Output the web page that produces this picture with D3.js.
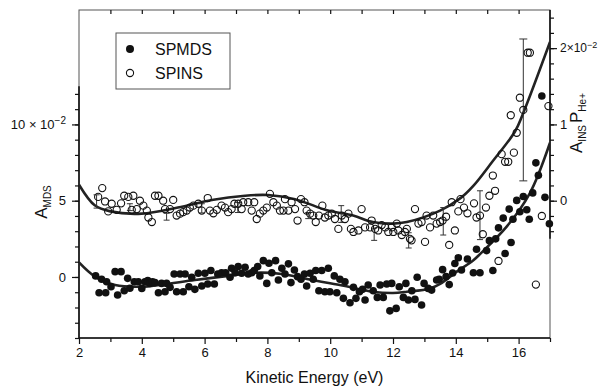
<!DOCTYPE html>
<html><head><meta charset="utf-8">
<script src="https://cdn.jsdelivr.net/npm/d3@7"></script>
<style>
body{margin:0;background:#fff}
svg{display:block}
text{font-family:"Liberation Sans",Arial,Helvetica,sans-serif;fill:#111}
</style>
</head><body>
<svg id="chart" width="607" height="388"></svg>
<script>
// ---------- DATA ----------
// SPMDS (filled circles), left axis, units of 10^-2
const mdsEnergy = [2.53,2.64,2.72,2.85,2.88,3.02,3.15,3.23,3.34,3.44,3.55,3.62,3.76,3.89,4.00,4.10,4.19,4.26,4.34,4.42,4.53,4.63,4.74,4.79,4.90,5.03,5.11,5.22,5.32,5.38,5.50,5.59,5.69,5.80,5.91,6.01,6.10,6.20,6.31,6.42,6.54,6.67,6.81,6.86,6.97,7.07,7.18,7.29,7.39,7.50,7.58,7.69,7.76,7.87,7.98,8.05,8.14,8.26,8.35,8.46,8.56,8.67,8.75,8.86,8.96,9.07,9.18,9.25,9.36,9.46,9.54,9.64,9.73,9.83,9.94,9.99,10.13,10.21,10.31,10.42,10.47,10.63,10.74,10.82,10.93,11.03,11.11,11.21,11.37,11.50,11.59,11.69,11.80,11.90,11.96,12.10,12.20,12.33,12.41,12.49,12.60,12.70,12.77,12.91,12.99,13.12,13.23,13.39,13.47,13.58,13.69,13.79,13.90,13.97,14.08,14.18,14.37,14.56,14.66,14.77,14.98,15.07,15.18,15.27,15.36,15.51,15.57,15.70,15.76,15.82,15.94,16.04,16.15,16.26,16.34,16.45,16.55,16.63,16.74,16.84,16.98];
const mdsValue = [0.07,-1.03,-0.15,-1.03,-0.31,-0.64,0.35,-1.18,0.35,-0.90,-0.09,-0.74,-0.31,-0.31,-0.75,-0.31,-0.24,-0.42,-0.31,-0.37,-1.03,-0.42,-0.97,-0.42,-0.68,0.20,-0.97,0.20,-0.97,0.20,-0.64,-0.02,-0.81,0.24,-0.59,0.24,-0.46,0.42,-0.46,0.20,0.28,0.28,-0.02,0.57,0.28,0.68,0.24,0.64,0.20,0.28,0.42,0.68,0.07,1.07,-0.42,0.90,0.28,1.07,-0.20,0.57,0.20,0.86,-0.37,0.46,0.02,-0.15,0.20,-0.59,0.24,-0.15,0.42,-0.90,0.42,-0.97,0.57,-0.97,0.07,-1.03,-0.15,-1.40,-0.31,-1.69,-0.68,-1.40,-0.97,-0.81,-1.51,-0.53,-0.90,-1.34,-0.53,-1.34,-0.46,-2.22,-0.42,-2.06,-0.64,-1.34,-0.42,-1.51,-0.90,-1.47,-0.02,-1.84,-0.42,-0.75,-0.86,-0.20,-0.15,0.48,0.02,-0.50,0.26,0.88,1.26,0.46,1.18,0.28,1.82,0.28,1.73,2.38,0.42,2.50,3.22,3.86,1.54,4.45,2.26,3.78,5.02,4.28,5.28,4.41,3.78,5.51,7.48,6.66,11.86,5.22,3.49];

// SPINS (open circles), right axis, units of 10^-2
const insEnergy = [2.61,2.74,2.83,2.93,3.04,3.20,3.34,3.44,3.57,3.68,3.73,3.84,3.94,4.05,4.16,4.21,4.32,4.42,4.53,4.68,4.74,4.90,5.00,5.11,5.22,5.32,5.43,5.53,5.64,5.80,5.91,6.10,6.17,6.28,6.39,6.54,6.65,6.75,6.86,6.95,7.07,7.18,7.23,7.39,7.50,7.58,7.66,7.76,7.87,7.98,8.08,8.19,8.30,8.40,8.51,8.56,8.67,8.77,8.88,8.96,9.07,9.18,9.25,9.36,9.46,9.54,9.64,9.75,9.83,9.94,10.05,10.15,10.26,10.37,10.47,10.58,10.66,10.74,10.90,11.00,11.11,11.27,11.32,11.43,11.53,11.64,11.75,11.85,11.96,12.01,12.12,12.17,12.28,12.38,12.44,12.54,12.59,12.70,12.81,12.91,13.02,13.07,13.18,13.28,13.39,13.50,13.58,13.69,13.79,13.87,13.97,14.08,14.15,14.26,14.37,14.58,14.66,14.77,14.86,14.96,15.07,15.18,15.25,15.36,15.46,15.57,15.67,15.75,15.85,15.94,16.04,16.15,16.29,16.36,16.55,16.74,16.95];
const insValue = [0.05,0.165,-0.01,-0.14,-0.04,-0.12,-0.035,0.065,0.05,-0.12,0.065,-0.11,0.0,-0.065,-0.13,-0.22,-0.28,0.065,0.065,0.0,-0.11,-0.11,0.01,-0.195,-0.17,-0.15,-0.13,-0.09,-0.065,-0.04,-0.13,0.035,-0.13,-0.165,-0.12,-0.065,-0.09,-0.15,-0.11,-0.04,-0.04,-0.11,-0.02,-0.02,-0.13,-0.02,-0.24,-0.17,-0.13,-0.09,0.09,-0.02,-0.065,-0.13,-0.13,0.02,-0.13,-0.02,-0.11,-0.26,0.02,-0.02,-0.13,-0.17,-0.195,-0.28,-0.195,-0.065,-0.22,-0.195,-0.17,-0.24,-0.37,-0.195,-0.24,-0.17,-0.37,-0.41,-0.39,-0.11,-0.35,-0.35,-0.26,-0.37,-0.39,-0.32,-0.35,-0.41,-0.35,-0.41,-0.30,-0.39,-0.45,-0.41,-0.37,-0.50,-0.52,-0.11,-0.30,-0.28,-0.54,-0.195,-0.35,-0.195,-0.30,-0.28,-0.26,-0.21,-0.58,-0.02,-0.39,-0.14,0.02,-0.09,-0.165,-0.035,-0.22,-0.195,-0.44,-0.09,0.065,0.33,0.13,-0.79,0.61,0.51,0.51,1.12,0.63,0.89,1.35,1.19,1.94,1.94,-1.10,-0.20,1.24];

// SPINS error bars (energy, centre, half-length), right-axis units
const errEnergy = [2.56,3.62,4.79,5.91,7.06,9.30,10.35,11.40,12.50,13.60,14.77,16.15];
const errCenter = [-0.01,-0.085,-0.21,-0.10,-0.09,-0.195,-0.175,-0.44,-0.52,-0.27,-0.19,1.19];
const errHalf   = [0.087,0.045,0.045,0.06,0.065,0.04,0.11,0.08,0.10,0.18,0.32,0.93];

// fitted curves
const fitMdsEnergy = [2.0,2.51,3.15,4.0,4.63,5.69,6.75,7.61,8.46,9.41,10.31,11.36,12.0,12.44,13.18,13.5,14.03,14.56,14.77,15.62,16.36,17.0];
const fitMdsValue  = [0.95,0.02,-0.53,-0.64,-0.5,-0.2,0.07,0.28,0.2,-0.2,-0.53,-0.97,-1.05,-0.97,-0.75,-0.45,0.35,1.1,1.5,3.3,5.5,8.8];
const fitInsEnergy = [2.0,2.5,3.0,4.0,5.15,6.23,7.29,8.02,8.88,9.93,10.73,11.36,12.0,12.44,13.5,14.17,14.55,15.18,15.89,16.14,17.0];
const fitInsValue  = [0.21,-0.06,-0.14,-0.17,-0.09,0.01,0.065,0.074,0.02,-0.13,-0.195,-0.28,-0.30,-0.28,-0.13,0.04,0.19,0.52,0.91,1.14,2.08];

const xTicksMajor = [2,4,6,8,10,12,14,16];
const leftTicksMajor = [0,5,10];
const rightTicksMajor = [0,1,2];
const legendLabels = ["SPMDS","SPINS"];
const xTitle = "Kinetic Energy (eV)";

// ---------- LAYOUT ----------
const X0=79, X1=550, Y0=10, Y1=338;
const svg = d3.select("#chart");
const x  = d3.scaleLinear().domain([2,17]).range([X0,X1]);
const yL = d3.scaleLinear().domain([-4,17.5]).range([Y1,Y0]);
const yR = d3.scaleLinear().domain([-1.8,2.5]).range([Y1,Y0]);
const ink = "#111";

// frame
svg.append("rect").attr("x",X0).attr("y",Y0).attr("width",X1-X0).attr("height",Y1-Y0)
  .attr("fill","none").attr("stroke","#555").attr("stroke-width",1);

function styleAxis(g){ g.select(".domain").remove(); g.selectAll("line").attr("stroke",ink).attr("stroke-width",1.2); g.selectAll("text").attr("font-size",13).attr("fill",ink); }

// bottom axis
svg.append("g").attr("transform",`translate(0,${Y1})`)
  .call(d3.axisBottom(x).tickValues(d3.range(3,18,2)).tickSize(4).tickFormat(""))
  .call(styleAxis);
svg.append("g").attr("transform",`translate(0,${Y1})`)
  .call(d3.axisBottom(x).tickValues(xTicksMajor).tickSize(6).tickPadding(4).tickFormat(d3.format("d")))
  .call(styleAxis);
// top ticks (inward)
svg.append("g").attr("transform",`translate(0,${Y0})`)
  .call(d3.axisTop(x).tickValues(d3.range(3,17,1)).tickSize(-4).tickFormat(""))
  .call(styleAxis);

// left axis
svg.append("g").attr("transform",`translate(${X0},0)`)
  .call(d3.axisLeft(yL).tickValues(d3.range(-4,13)).tickSize(4).tickFormat(""))
  .call(styleAxis);
const gL = svg.append("g").attr("transform",`translate(${X0},0)`)
  .call(d3.axisLeft(yL).tickValues(leftTicksMajor).tickSize(7).tickPadding(6).tickFormat(d3.format("d")))
  .call(styleAxis);
gL.selectAll(".tick text").each(function(d){
  if(d===10){ const t=d3.select(this); t.text("10 × 10");
    t.append("tspan").attr("dy","-0.55em").attr("font-size",10).text("−2"); }
});

// right axis
svg.append("g").attr("transform",`translate(${X1},0)`)
  .call(d3.axisRight(yR).tickValues(d3.range(-2,13).map(i=>i/5)).tickSize(4).tickFormat(""))
  .call(styleAxis);
const gR = svg.append("g").attr("transform",`translate(${X1},0)`)
  .call(d3.axisRight(yR).tickValues(rightTicksMajor).tickSize(7).tickPadding(3).tickFormat(d3.format("d")))
  .call(styleAxis);
gR.selectAll(".tick text").each(function(d){
  if(d===2){ const t=d3.select(this); t.text("2×10").attr("font-size",12);
    t.append("tspan").attr("dy","-0.55em").attr("font-size",9).text("−2"); }
});

// thicker axis lines
svg.append("line").attr("x1",X0).attr("x2",X1).attr("y1",Y1).attr("y2",Y1).attr("stroke",ink).attr("stroke-width",1.6);
svg.append("line").attr("x1",X0).attr("x2",X0).attr("y1",yL(12.5)).attr("y2",Y1).attr("stroke",ink).attr("stroke-width",1.6);
svg.append("line").attr("x1",X1).attr("x2",X1).attr("y1",Y0).attr("y2",yR(-0.5)).attr("stroke",ink).attr("stroke-width",1.6);

// axis titles
svg.append("text").attr("x",(X0+X1)/2).attr("y",383).attr("text-anchor","middle")
  .attr("font-size",16).text(xTitle);
const lt = svg.append("text").attr("transform","translate(47,202) rotate(-90)").attr("text-anchor","middle").attr("font-size",17);
lt.append("tspan").text("A");
lt.append("tspan").attr("font-size",10).attr("dy",4).text("MDS");
const rt = svg.append("text").attr("transform","translate(582,123) rotate(-90)").attr("text-anchor","middle").attr("font-size",17);
rt.append("tspan").text("A");
rt.append("tspan").attr("font-size",10).attr("dy",4).text("INS");
rt.append("tspan").attr("dy",-4).attr("dx",2).text("P");
rt.append("tspan").attr("font-size",10).attr("dy",4).text("He+");

// clip for curves
svg.append("clipPath").attr("id","plotclip").append("rect")
  .attr("x",X0).attr("y",Y0).attr("width",X1-X0).attr("height",Y1-Y0);
const plot = svg.append("g").attr("clip-path","url(#plotclip)");

// error bars
const errData = errEnergy.map((e,i)=>({e, c:errCenter[i], h:errHalf[i]}));
const eg = svg.append("g").attr("stroke","#333").attr("stroke-width",1).attr("fill","none");
errData.forEach(d=>{
  const cx = x(d.e), ya = yR(d.c-d.h), yb = yR(d.c+d.h), cw = d.h>0.5 ? 4 : 3;
  eg.append("line").attr("x1",cx).attr("x2",cx).attr("y1",ya).attr("y2",yb);
  eg.append("line").attr("x1",cx-cw).attr("x2",cx+cw).attr("y1",ya).attr("y2",ya);
  eg.append("line").attr("x1",cx-cw).attr("x2",cx+cw).attr("y1",yb).attr("y2",yb);
});

// fitted curves
const lineL = d3.line().x(d=>x(d[0])).y(d=>yL(d[1])).curve(d3.curveCatmullRom.alpha(0.5));
const lineR = d3.line().x(d=>x(d[0])).y(d=>yR(d[1])).curve(d3.curveCatmullRom.alpha(0.5));
plot.append("path").datum(fitInsEnergy.map((e,i)=>[e,fitInsValue[i]])).attr("d",lineR)
  .attr("fill","none").attr("stroke","#222").attr("stroke-width",2.6);
plot.append("path").datum(fitMdsEnergy.map((e,i)=>[e,fitMdsValue[i]])).attr("d",lineL)
  .attr("fill","none").attr("stroke","#222").attr("stroke-width",2.6);

// points
svg.append("g").selectAll("circle").data(insEnergy.map((e,i)=>[e,insValue[i]])).join("circle")
  .attr("cx",d=>x(d[0])).attr("cy",d=>yR(d[1])).attr("r",3.6)
  .attr("fill","none").attr("stroke",ink).attr("stroke-width",1.1);
svg.append("g").selectAll("circle").data(mdsEnergy.map((e,i)=>[e,mdsValue[i]])).join("circle")
  .attr("cx",d=>x(d[0])).attr("cy",d=>yL(d[1])).attr("r",3.8).attr("fill",ink);

// legend
const lg = svg.append("g");
lg.append("rect").attr("x",116).attr("y",33).attr("width",114).attr("height",56)
  .attr("fill","#fff").attr("stroke","#555").attr("stroke-width",1);
lg.append("circle").attr("cx",130).attr("cy",49).attr("r",4).attr("fill",ink);
lg.append("circle").attr("cx",130).attr("cy",73).attr("r",3.6).attr("fill","none").attr("stroke",ink).attr("stroke-width",1.1);
lg.selectAll("text.lab").data(legendLabels).join("text").attr("class","lab")
  .attr("x",155).attr("y",(d,i)=>49+i*24).attr("dy","0.36em").attr("font-size",16).text(d=>d);
</script>
</body></html>
